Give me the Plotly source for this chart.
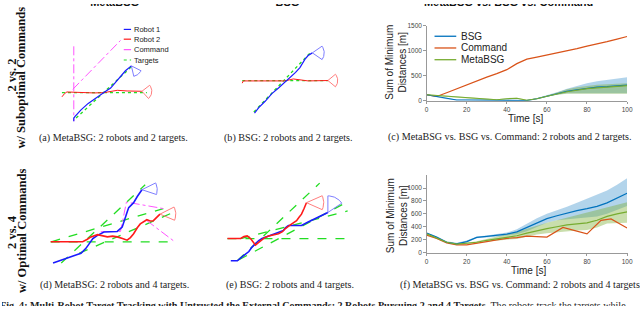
import numpy as np
import plotly.graph_objects as go

W, H = 640, 309

# ---------------- trajectory data (scene frame: x right, y down) ----------------
# (a) MetaBSG 2 vs 2
a_robot1_x = [72.7, 72.7, 74, 80, 87.3, 95, 100, 105, 110, 115, 117.3, 120, 125, 131]
a_robot1_y = [120, 116.7, 115, 108.3, 101.7, 96.7, 93.3, 89.3, 86, 80, 77.3, 74, 68.3, 63.3]
a_robot2_x = [60.7, 63.3, 65.7, 76.7, 93.3, 103.3, 110, 116.7, 126.7, 136.7, 141.7]
a_robot2_y = [95, 91.7, 90, 90.7, 91, 90.7, 89.3, 88.3, 89, 89.3, 89.3]
a_cmd_x = [72.7, 72.7, None, 71.7, 120]
a_cmd_y = [43.3, 120, None, 87.3, 37.3]
a_tgt_x = [60.7, 146.7, None, 75, 132.7]
a_tgt_y = [90.7, 90.7, None, 116.7, 62.7]

# (b) BSG 2 vs 2
b_robot1_x = [255.7, 260, 266.7, 273.3, 280, 287.3, 292.7, 297.3, 301.7, 306.7, 310, 314.3]
b_robot1_y = [111.7, 106, 99.3, 91.7, 86, 79.3, 74, 70, 65, 56.7, 52.7, 50]
b_robot2_x = [243.3, 244.3, 260, 286.7, 295, 301.7, 310, 330]
b_robot2_y = [81, 78.7, 78.7, 78.7, 76.7, 77.3, 78.7, 78.3]
b_tgt_x = [243.3, 330, None, 255, 313]
b_tgt_y = [78.3, 78.3, None, 110.5, 49]

# (d) MetaBSG 2 vs 4
d_robot1_x = [51.7, 60, 70, 80, 85, 88.3, 92, 96.7, 103.3, 110, 116.7, 121.7, 124, 127, 128.3, 133.3, 137, 141.7]
d_robot1_y = [265, 262, 259, 255, 250, 245, 240, 236.7, 233.3, 233, 232.7, 228.3, 220, 212, 208.3, 203.3, 197, 190]
d_robot2_x = [49.3, 81.7, 86, 90, 96.7, 102, 106.7, 112, 116.7, 122, 126.7, 130, 133.3, 137, 140, 146.7, 150, 153.3, 157, 160]
d_robot2_y = [243.3, 243.3, 241, 238.3, 236, 237, 238.3, 237.5, 238.3, 240, 241.7, 239, 235, 229, 225, 220.7, 222, 221.7, 218, 215]
d_cmd_x = [100, 120, 126, 163.3, None, 146.7, 175]
d_cmd_y = [233, 232.7, 202.7, 209.3, None, 221.7, 243.3]
d_tgt_x = [49.3, 175, None, 60, 145, None, 50, 163.3, None, 78.3, 173.3]
d_tgt_y = [243.3, 243.3, None, 265, 185, None, 243.3, 209.3, None, 255, 213.3]

# (e) BSG 2 vs 4
e_robot1_x = [231.7, 238.3, 244, 250, 253, 256.7, 260, 263.3, 268, 273.3, 279, 285, 287, 290, 296, 303.3, 310, 316.7, 323, 330]
e_robot1_y = [262.7, 262.7, 258, 253.3, 249, 245, 242, 240, 238, 236, 234, 231.7, 229, 226.7, 226.7, 226.7, 223, 220, 217, 213.3]
e_robot2_x = [228.3, 241.7, 245, 248.3, 251.7, 254, 256.7, 260, 263.3, 266, 270, 275, 280, 284, 286.7, 292, 298.3, 301, 303.3, 306, 308.3]
e_robot2_y = [240, 240, 238, 237.3, 240, 243, 246.7, 244, 241.7, 239, 237.3, 236, 235, 233, 230, 226, 221.7, 218, 215, 209, 203.3]
e_tgt_x = [228.3, 353.3, None, 238.3, 321.7, None, 241.7, 350, None, 240, 345]
e_tgt_y = [240, 240, None, 262.7, 183.3, None, 240, 211.7, None, 261.7, 205]

# sensor fans: tip x, tip y, heading (deg), half fov (deg), radius, colour key
fans = [
    (131, 63.3, 52, 25, 11, "b"), (141.7, 89.3, 5, 43, 10, "r"),
    (314.3, 50, 0, 35, 12, "b"), (330, 78.3, 0, 40, 10, "r"),
    (141.7, 190, -4, 22.5, 15.5, "b"), (160, 215, -2, 25, 16, "r"),
    (330, 213.3, -62, 28, 17, "b"), (308.3, 203.3, 0, 24, 17.5, "r"),
]

# ---------------- line-chart data ----------------
t = [0, 5, 10, 15, 20, 25, 30, 35, 40, 45, 50, 55, 60, 65, 70, 75, 80, 85, 90, 95, 100]

# (c) 2 robots 2 targets
c_cmd_t = [0, 5, 10, 15, 20, 25, 30, 35, 40, 45, 48, 50, 55, 60, 65, 70, 75, 80, 85, 90, 95, 100]
c_cmd = [120, 85, 160, 240, 320, 400, 470, 540, 620, 740, 800, 830, 870, 910, 950, 1000, 1040, 1090, 1130, 1180, 1230, 1280]
c_bsg = [120, 80, 40, 15, 15, 15, 15, 15, 20, 15, 5, 40, 95, 140, 190, 220, 250, 270, 280, 295, 310]
c_bsg_up = [130, 90, 50, 25, 25, 25, 25, 25, 30, 25, 15, 55, 110, 170, 240, 300, 350, 390, 420, 450, 470]
c_bsg_lo = [110, 70, 30, 5, 5, 5, 5, 5, 10, 5, 0, 30, 80, 120, 150, 160, 160, 160, 155, 150, 150]
c_meta = [120, 105, 90, 75, 55, 40, 25, 20, 40, 50, 10, 40, 90, 140, 180, 210, 240, 255, 265, 285, 300]
c_meta_up = [130, 115, 100, 85, 65, 50, 35, 30, 50, 60, 20, 50, 100, 160, 230, 270, 300, 320, 330, 340, 350]
c_meta_lo = [110, 95, 80, 65, 45, 30, 15, 10, 30, 40, 0, 30, 80, 120, 140, 145, 145, 140, 140, 140, 140]

# (f) 2 robots 4 targets
f_bsg = [300, 240, 160, 135, 170, 235, 250, 265, 285, 320, 390, 460, 525, 570, 615, 650, 680, 715, 770, 840, 920]
f_bsg_up = [310, 250, 175, 150, 185, 250, 265, 285, 310, 360, 450, 530, 600, 650, 710, 770, 830, 890, 960, 1050, 1150]
f_bsg_lo = [290, 230, 150, 120, 155, 220, 235, 245, 260, 285, 330, 400, 460, 500, 520, 535, 545, 560, 600, 660, 720]
f_meta = [290, 230, 160, 130, 140, 160, 190, 215, 240, 260, 300, 340, 370, 400, 430, 445, 460, 500, 560, 600, 630]
f_meta_up = [300, 240, 170, 140, 150, 175, 210, 245, 290, 320, 370, 420, 460, 500, 540, 580, 620, 660, 690, 740, 780]
f_meta_lo = [280, 220, 150, 120, 130, 145, 170, 190, 200, 210, 250, 280, 300, 320, 330, 340, 350, 390, 450, 460, 460]
f_cmd_t = [0, 5, 10, 15, 20, 25, 30, 35, 40, 45, 50, 60, 68, 74, 80, 87, 92, 100]
f_cmd = [270, 220, 150, 120, 120, 140, 170, 195, 220, 230, 255, 240, 390, 340, 290, 500, 520, 380]

legend_a = ["Robot 1", "Robot 2", "Command", "Targets"]
legend_c = ["BSG", "Command", "MetaBSG"]
col_titles = ["MetaBSG", "BSG", "MetaBSG vs. BSG vs. Command"]
fig_caption = ("<b>Fig. 4: Multi-Robot Target Tracking with Untrusted the External Commands: "
               "2 Robots Pursuing 2 and 4 Targets.</b> The robots track the targets while")

# ---------------- styling ----------------
BLUE, RED, MAG, GRN = "#1a1aff", "#ff1a1a", "#ff55ff", "#22dd22"
FAN = {"b": "#6f6fff", "r": "#ff6f6f"}
M_BSG, M_CMD, M_META = "#0072BD", "#D95319", "#77AC30"
SERIF = "Liberation Serif"
CAP = 10.1


def px(x):
    return x / W


def py(y):
    return 1 - y / H


fig = go.Figure()


def line(x, y, color, width, dash="solid", axes=("x", "y")):
    fig.add_trace(go.Scatter(x=x, y=y, mode="lines", xaxis=axes[0], yaxis=axes[1],
                             line=dict(color=color, width=width, dash=dash),
                             showlegend=False, hoverinfo="skip"))


# trajectories (scene axes)
line(a_tgt_x, a_tgt_y, GRN, 1.3, "dot")
line(a_cmd_x, a_cmd_y, MAG, 1.0, "dashdot")
line(a_robot2_x, a_robot2_y, RED, 1.0)
line(a_robot1_x, a_robot1_y, BLUE, 1.2)
line(b_tgt_x, b_tgt_y, GRN, 1.3, "dot")
line(b_robot2_x, b_robot2_y, RED, 1.0)
line(b_robot1_x, b_robot1_y, BLUE, 1.2)
line(d_tgt_x, d_tgt_y, GRN, 1.3, "dash")
line(d_cmd_x, d_cmd_y, MAG, 1.0, "dashdot")
line(d_robot1_x, d_robot1_y, BLUE, 1.6)
line(d_robot2_x, d_robot2_y, RED, 1.6)
line(e_tgt_x, e_tgt_y, GRN, 1.3, "dash")
line(e_robot1_x, e_robot1_y, BLUE, 1.6)
line(e_robot2_x, e_robot2_y, RED, 1.6)

for (tx, ty, hd, hf, r, c) in fans:
    ang = np.radians(np.linspace(hd - hf, hd + hf, 24))
    xs = [tx] + list(tx + r * np.cos(ang)) + [tx]
    ys = [ty] + list(ty + r * np.sin(ang)) + [ty]
    line(xs, ys, FAN[c], 0.9)

# texts at the figure edges (clipped by the figure, as in the reference)
fig.add_trace(go.Scatter(
    x=[114, 289, 513], y=[-0.5, -0.5, -0.5], mode="text", text=col_titles,
    textposition="middle center",
    textfont=dict(family="Arial", size=11, color="#111", weight="bold"),
    xaxis="x", yaxis="y", showlegend=False, hoverinfo="skip"))
fig.add_trace(go.Scatter(
    x=[-2], y=[309.5], mode="text", text=[fig_caption],
    textposition="middle right",
    textfont=dict(family=SERIF, size=CAP, color="#222"),
    xaxis="x", yaxis="y", showlegend=False, hoverinfo="skip"))


# line charts
def band(tt, up, lo, color, axes):
    fig.add_trace(go.Scatter(x=list(tt) + list(tt)[::-1], y=list(up) + list(lo)[::-1],
                             mode="lines", fill="toself", fillcolor=color,
                             line=dict(width=0), xaxis=axes[0], yaxis=axes[1],
                             showlegend=False, hoverinfo="skip"))


band(t, c_bsg_up, c_bsg_lo, "rgba(0,114,189,0.30)", ("x2", "y2"))
band(t, c_meta_up, c_meta_lo, "rgba(119,172,48,0.40)", ("x2", "y2"))
line(c_cmd_t, c_cmd, M_CMD, 1.2, axes=("x2", "y2"))
line(t, c_bsg, M_BSG, 1.2, axes=("x2", "y2"))
line(t, c_meta, M_META, 1.2, axes=("x2", "y2"))

band(t, f_bsg_up, f_bsg_lo, "rgba(0,114,189,0.30)", ("x3", "y3"))
band(t, f_meta_up, f_meta_lo, "rgba(119,172,48,0.40)", ("x3", "y3"))
line(f_cmd_t, f_cmd, M_CMD, 1.2, axes=("x3", "y3"))
line(t, f_bsg, M_BSG, 1.2, axes=("x3", "y3"))
line(t, f_meta, M_META, 1.2, axes=("x3", "y3"))

tickfont = dict(family="Arial", size=6.5, color="#444")
xcommon = dict(range=[0, 100], tickvals=[0, 20, 40, 60, 80, 100], showline=True,
               linecolor="#999", linewidth=0.8, ticks="outside", ticklen=2.5,
               tickcolor="#999", tickfont=tickfont, showgrid=False, zeroline=False,
               fixedrange=True)
ycommon = dict(showline=True, linecolor="#999", linewidth=0.8, ticks="outside",
               ticklen=2.5, tickcolor="#999", tickfont=tickfont, showgrid=False,
               zeroline=False, fixedrange=True)

fig.update_layout(
    width=W, height=H, margin=dict(l=0, r=0, t=0, b=0),
    paper_bgcolor="white", plot_bgcolor="rgba(0,0,0,0)", showlegend=False,
    xaxis=dict(domain=[0, 1], range=[0, W], visible=False, fixedrange=True),
    yaxis=dict(domain=[0, 1], range=[H, 0], visible=False, fixedrange=True),
    xaxis2=dict(domain=[px(430), px(633)], anchor="y2", **xcommon),
    yaxis2=dict(domain=[py(99), py(22)], anchor="x2", range=[0, 1500],
                tickvals=[0, 500, 1000, 1500], **ycommon),
    xaxis3=dict(domain=[px(430), px(633)], anchor="y3", **xcommon),
    yaxis3=dict(domain=[py(254.3), py(175.1)], anchor="x3", range=[0, 1200],
                tickvals=[0, 200, 400, 600, 800, 1000], **ycommon),
)

ann = []


def text(x, y, s, size, family="Arial", color="#222", angle=0, xanchor="center", bold=False):
    if bold:
        s = "<b>" + s + "</b>"
    ann.append(dict(x=px(x), y=py(y), xref="paper", yref="paper", text=s, showarrow=False,
                    xanchor=xanchor, yanchor="middle", textangle=angle,
                    font=dict(family=family, size=size, color=color)))


# row labels
text(10.3, 73, "2 vs. 2", 12.5, family=SERIF, angle=-90, bold=True, color="#111")
text(19.5, 75, "w/ Suboptimal Commands", 12.5, family=SERIF, angle=-90, bold=True, color="#111")
text(10.3, 233, "2 vs. 4", 12.5, family=SERIF, angle=-90, bold=True, color="#111")
text(19.5, 232, "w/ Optimal Commands", 12.5, family=SERIF, angle=-90, bold=True, color="#111")

# captions
text(112.5, 136.7, "(a) MetaBSG: 2 robots and 2 targets.", CAP, family=SERIF)
text(290.5, 137, "(b) BSG: 2 robots and 2 targets.", CAP, family=SERIF)
text(389, 136.5, "(c) MetaBSG vs. BSG vs. Command: 2 robots and 2 targets.", CAP, family=SERIF, xanchor="left")
text(113.5, 287.3, "(d) MetaBSG: 2 robots and 4 targets.", CAP, family=SERIF)
text(291.5, 287.3, "(e) BSG: 2 robots and 4 targets.", CAP, family=SERIF)
text(401, 287.3, "(f) MetaBSG vs. BSG vs. Command: 2 robots and 4 targets.", CAP, family=SERIF, xanchor="left")

# axis titles
text(530, 117, "Time [s]", 10)
text(393, 60, "Sum of Minimum", 10, angle=-90)
text(406, 59, "Distances [m]", 10, angle=-90)
text(533, 273, "Time [s]", 10)
text(393, 217, "Sum of Minimum", 10, angle=-90)
text(406, 216, "Distances [m]", 10, angle=-90)

# legend (a)
shapes = []
leg_a_y = [26, 36, 46.7, 57.3]
leg_a_sty = [(BLUE, "solid"), (RED, "solid"), (MAG, "dashdot"), (GRN, "dot")]
for lab, yy, (col, ds) in zip(legend_a, leg_a_y, leg_a_sty):
    shapes.append(dict(type="line", xref="paper", yref="paper", x0=px(123.3), x1=px(130.7),
                       y0=py(yy), y1=py(yy), line=dict(color=col, width=1.2, dash=ds)))
    text(131.5, yy, lab, 7.5, xanchor="left", color="#222")

# legend (c)
leg_c_y = [33, 45, 57]
for lab, yy, col in zip(legend_c, leg_c_y, [M_BSG, M_CMD, M_META]):
    shapes.append(dict(type="line", xref="paper", yref="paper", x0=px(438), x1=px(460),
                       y0=py(yy), y1=py(yy), line=dict(color=col, width=1.3)))
    text(463, yy, lab, 10, xanchor="left", color="#222")

fig.update_layout(annotations=ann, shapes=shapes)
# remove the default 8px page margin so the figure sits at the window's top-left corner
fig.write_html("out.html", config={"displayModeBar": False},
               post_script="document.body.style.margin='0';")
